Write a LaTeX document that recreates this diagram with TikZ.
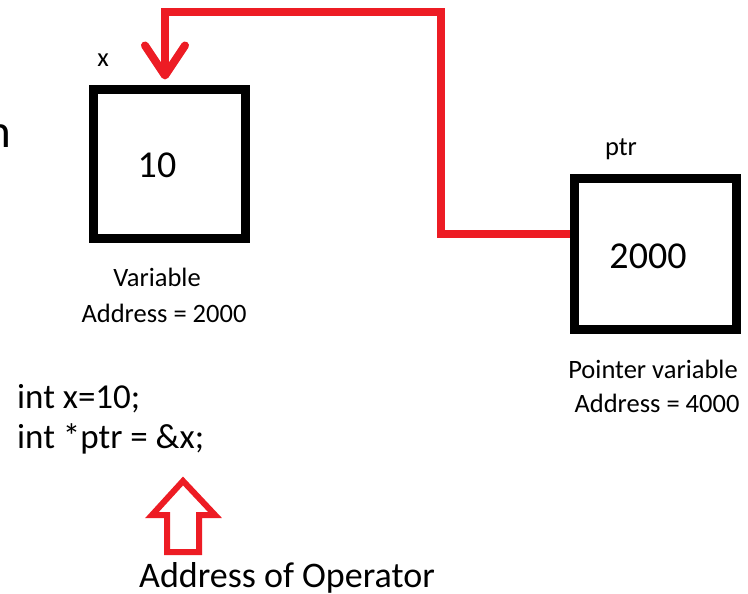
\documentclass[tikz,border=0pt]{standalone}
\usepackage{fontspec}
\setmainfont{Carlito}
\usetikzlibrary{calc, arrows.meta}

\definecolor{linkred}{RGB}{237,28,36}

\tikzset{
  cell/.style={draw, line width=9pt, inner sep=0pt},
  tag/.style={inner sep=0pt, anchor=base, font=\fontsize{26.5}{30}\selectfont},
  val/.style={inner sep=0pt, anchor=base, font=\fontsize{38}{44}\selectfont},
  code/.style={inner sep=0pt, anchor=base west, font=\fontsize{35}{42}\selectfont},
  link/.style={draw=linkred, line width=8pt, -{Straight Barb[length=30pt,width=40pt,round]}},
  hollow/.style={draw=linkred, line width=6pt},
}

\begin{document}
\begin{tikzpicture}[x=1pt, y=-1pt]
  \fill[white] (0,0) rectangle (748,594);
  \useasboundingbox (0,0) rectangle (748,594);

  % x and ptr cells
  \node[cell, minimum width=152pt, minimum height=148pt] (xbox) at (169,164) {};
  \node[cell, minimum width=162pt, minimum height=151pt] (pbox) at (655,253.5) {};
  \node[val] (xval) at (157,177) {10};
  \node[val] (pval) at (648,268) {2000};

  % names and addresses
  \node[tag] (xname) at (103,67) {x};
  \node[tag] (pname) at (621,156) {ptr};
  \node[tag] (xkind) at (157,286) {Variable};
  \node[tag] (xaddr) at (164,322) {Address = 2000};
  \node[tag] (pkind) at (653,378) {Pointer variable};
  \node[tag] (paddr) at (657,412) {Address = 4000};
  \node[inner sep=0pt, anchor=base east, font=\fontsize{47}{50}\selectfont] (cut) at (11,147) {n};

  % the C code
  \node[code] (line1) at (17,408) {int x=10;};
  \node[code] (line2) at (17,448) {int *ptr = \&x;};
  \node[inner sep=0pt, anchor=base, font=\fontsize{36}{42}\selectfont] (oplabel) at (287,587) {Address of Operator};

  % ptr points back at x
  \draw[link] ($(pbox.west)+(0,-20)$) -| (441,12) -| ($(xbox.north)+(-4,-6)$);

  % hollow arrow under &x
  \draw[hollow] (183,481) -- (215,515) -- (199,515) -- (199,552)
    -- (167,552) -- (167,515) -- (152,515) -- cycle;
\end{tikzpicture}
\end{document}
